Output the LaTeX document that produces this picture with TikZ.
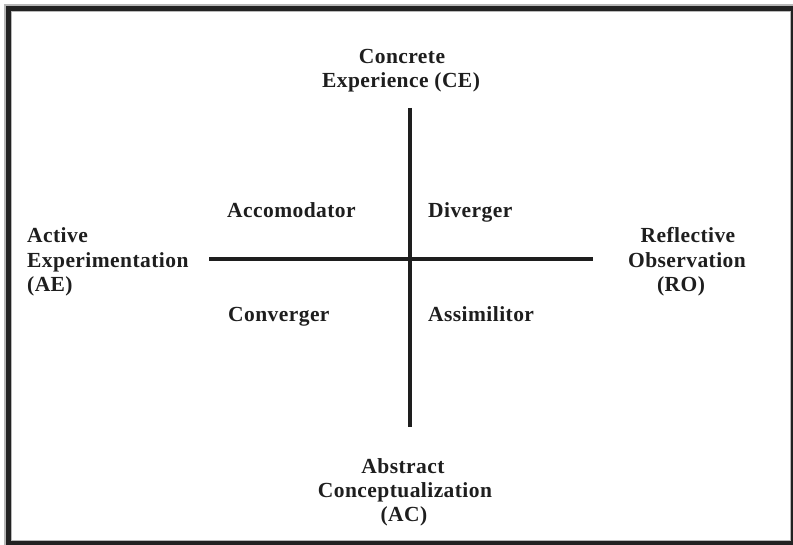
\documentclass[tikz,border=0pt]{standalone}
\usepackage{fontspec}
\setmainfont{Liberation Serif}[LetterSpace=2]
\definecolor{ink}{HTML}{1E1E1E}
\definecolor{framedark}{HTML}{222222}
\definecolor{framelight}{HTML}{B8B8B8}
\newcommand{\labfont}{\fontsize{21.5}{24}\selectfont\bfseries}
\begin{document}
\begin{tikzpicture}[x=1pt,y=-1pt,
  lbl/.style={font=\labfont, inner sep=0pt, text=ink},
  lw/.style={lbl, anchor=base west},
  lc/.style={lbl, anchor=base},
  axis/.style={draw=ink, line width=4pt}]
\useasboundingbox (0,0) rectangle (793,545);
% frame
\fill[framelight] (4,4) rectangle (793,545);
\fill[framedark] (6,6) rectangle (793,545);
\fill[framelight] (11,11) rectangle (791,541);
\fill[white] (12,12) rectangle (790,540);
% axes
\coordinate (vtop) at (409.5,108);
\coordinate (vbot) at (409.5,427);
\coordinate (hl) at (209,259.5);
\coordinate (hr) at (593,259.5);
\draw[axis] (vtop) -- (vbot);
\draw[axis] (hl) -- (hr);
% pole labels
\node[lc] (ce1) at (402,64) {Concrete};
\node[lc] (ce2) at (401,88) {Experience (CE)};
\node[lc] (ac1) at (403,473) {Abstract};
\node[lc] (ac2) at (405,497) {Conceptualization};
\node[lc] (ac3) at (404,521) {(AC)};
\node[lw] (ae1) at (27,243) {Active};
\node[lw] (ae2) at (27,268) {Experimentation};
\node[lw] (ae3) at (27,292) {(AE)};
\node[lc] (ro1) at (688,243) {Reflective};
\node[lc] (ro2) at (687,268) {Observation};
\node[lc] (ro3) at (681,292) {(RO)};
% quadrant labels
\node[lw] (acc) at (227,218) {Accomodator};
\node[lw] (div) at (428,218) {Diverger};
\node[lw] (con) at (228,322) {Converger};
\node[lw] (ass) at (428,322) {Assimilitor};
\end{tikzpicture}
\end{document}
